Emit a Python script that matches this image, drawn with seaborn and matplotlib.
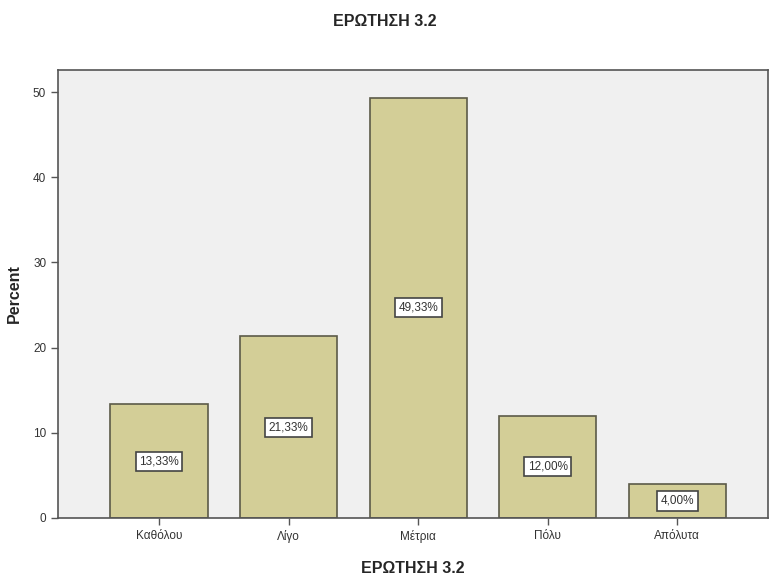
import matplotlib
matplotlib.use("Agg")
import matplotlib.pyplot as plt
import seaborn as sns
import pandas as pd

categories = ["Καθόλου", "Λίγο", "Μέτρια", "Πόλυ", "Απόλυτα"]
percent = [13.33, 21.33, 49.33, 12.00, 4.00]
labels = ["13,33%", "21,33%", "49,33%", "12,00%", "4,00%"]

df = pd.DataFrame({"cat": categories, "pct": percent})

sns.set_style("white")
plt.rcParams["font.family"] = ["Arial", "Liberation Sans", "DejaVu Sans"]

fig = plt.figure(figsize=(7.69, 5.78), dpi=100)
ax = fig.add_axes([58/769, 60/578, 710/769, 448/578])
ax.set_facecolor("#f0f0f0")

sns.barplot(data=df, x="cat", y="pct", ax=ax, color="#d3ce97", width=0.75,
            edgecolor="#5c5a48", linewidth=1.2, saturation=1)

for i, (v, lab) in enumerate(zip(percent, labels)):
    ax.text(i, v / 2, lab, ha="center", va="center", fontsize=8.5, color="#333333",
            bbox=dict(boxstyle="square,pad=0.3", fc="white", ec="#444444", lw=1.2))

ax.set_xlim(-0.78, 4.70)
ax.set_ylim(0, 52.6)
ax.set_yticks([0, 10, 20, 30, 40, 50])
ax.tick_params(axis="both", which="both", length=5, width=1, color="#555555",
               labelsize=8.5, labelcolor="#333333", direction="out", left=True, bottom=True)
for s in ax.spines.values():
    s.set_color("#555555")
    s.set_linewidth(1.2)

ax.set_xlabel("ΕΡΩΤΗΣΗ 3.2", fontsize=11.5, fontweight="bold", labelpad=13)
ax.set_ylabel("Percent", fontsize=11.5, fontweight="bold", labelpad=8)
fig.text(0.5, 1 - 21/578, "ΕΡΩΤΗΣΗ 3.2", ha="center", va="center", fontsize=11.5, fontweight="bold")

fig.savefig("out.png", dpi=100, facecolor="white")
